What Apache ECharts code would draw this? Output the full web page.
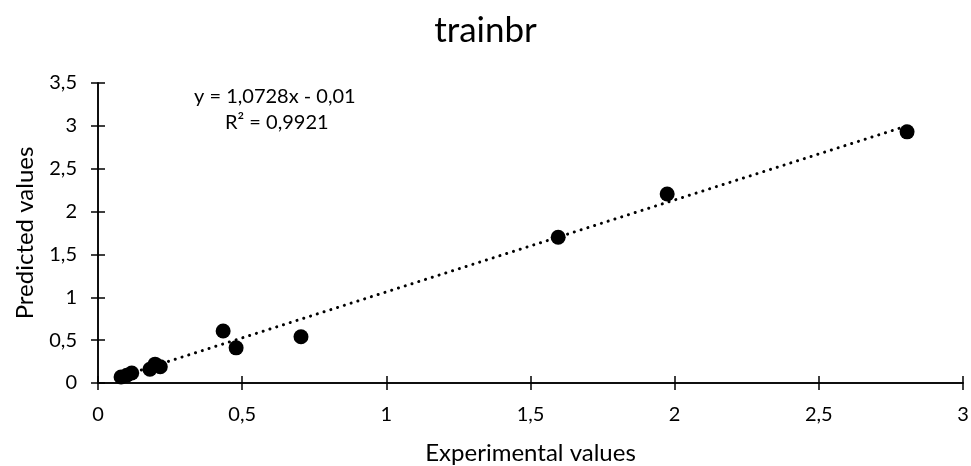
<!DOCTYPE html>
<html>
<head>
<meta charset="utf-8">
<script src="https://cdn.jsdelivr.net/npm/echarts@6/dist/echarts.min.js"></script>
<style>
  html, body { margin: 0; padding: 0; background: #fff; }
  #chart { width: 971px; height: 466px; }
</style>
</head>
<body>
<div id="chart"></div>
<script>
// Experimental vs predicted values (trainbr network)
const experimental = [0.08, 0.10, 0.117, 0.18, 0.198, 0.216, 0.434, 0.479, 0.704, 1.596, 1.974, 2.806];
const predicted    = [0.07, 0.09, 0.117, 0.16, 0.22, 0.19, 0.607, 0.41, 0.54, 1.70, 2.205, 2.93];

// Linear trendline coefficients
const slope = 1.0728;
const intercept = -0.01;
const equationLines = ['y = 1,0728x - 0,01', 'R² = 0,9921'];

const points = experimental.map((x, i) => [x, predicted[i]]);
const xMin = Math.min(...experimental);
const xMax = Math.max(...experimental);
const trend = [[xMin, slope * xMin + intercept], [xMax, slope * xMax + intercept]];

const font = 'Lato, "Open Sans", sans-serif';
const fmt = v => String(v).replace('.', ',');

const chart = echarts.init(document.getElementById('chart'));

const tickStyle = { color: '#000', width: 1.5 };
const baseX = {
  type: 'value', min: 0, max: 3, interval: 0.5,
  axisLine: { show: true, onZero: false, lineStyle: { color: '#000', width: 1.5 } },
  splitLine: { show: false }
};
const baseY = {
  type: 'value', min: 0, max: 3.5, interval: 0.5,
  axisLine: { show: true, onZero: false, lineStyle: { color: '#000', width: 1.5 } },
  splitLine: { show: false }
};

chart.setOption({
  animation: false,
  backgroundColor: '#fff',
  title: {
    text: 'trainbr',
    left: 'center', top: 8,
    textStyle: { fontFamily: font, fontSize: 35, fontWeight: 'normal', color: '#000' }
  },
  grid: { left: 98, right: 8, top: 83, bottom: 83, outerBoundsMode: 'none', containLabel: false },
  xAxis: [
    Object.assign({}, baseX, {
      name: 'Experimental values', nameLocation: 'middle', nameGap: 58,
      nameTextStyle: { fontFamily: font, fontSize: 24, color: '#000' },
      axisTick: { show: true, inside: false, length: 7, lineStyle: tickStyle },
      axisLabel: { fontFamily: font, fontSize: 20, color: '#000', margin: 22, formatter: fmt }
    }),
    Object.assign({}, baseX, {
      position: 'bottom',
      axisTick: { show: true, inside: true, length: 7, lineStyle: tickStyle },
      axisLabel: { show: false }
    })
  ],
  yAxis: [
    Object.assign({}, baseY, {
      name: 'Predicted values', nameLocation: 'middle', nameGap: 61, nameRotate: 90,
      nameTextStyle: { fontFamily: font, fontSize: 24, color: '#000' },
      axisTick: { show: true, inside: false, length: 7, lineStyle: tickStyle },
      axisLabel: { fontFamily: font, fontSize: 20, color: '#000', margin: 21, formatter: fmt }
    }),
    Object.assign({}, baseY, {
      position: 'left',
      axisTick: { show: true, inside: true, length: 7, lineStyle: tickStyle },
      axisLabel: { show: false }
    })
  ],
  series: [
    {
      type: 'line',
      data: trend,
      symbol: 'none',
      lineStyle: { color: '#000', width: 3, type: [0.1, 7], cap: 'round' },
      z: 1,
      silent: true
    },
    {
      type: 'scatter',
      data: points,
      symbol: 'circle',
      symbolSize: 15,
      itemStyle: { color: '#000', opacity: 1 },
      z: 3
    }
  ],
  graphic: [
    {
      type: 'text', left: 194, top: 87,
      style: { text: equationLines[0], font: '20px ' + font, fill: '#000' }
    },
    {
      type: 'text', left: 225, top: 113,
      style: { text: equationLines[1], font: '20px ' + font, fill: '#000' }
    }
  ]
});
</script>
</body>
</html>
